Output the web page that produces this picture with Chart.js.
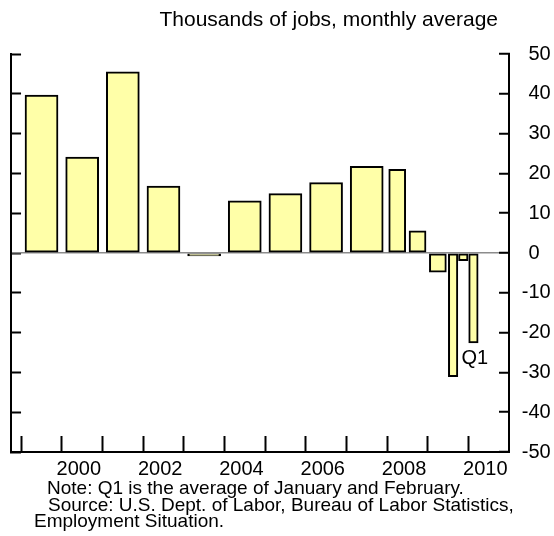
<!DOCTYPE html>
<html>
<head>
<meta charset="utf-8">
<script src="https://cdn.jsdelivr.net/npm/chart.js@4/dist/chart.umd.min.js"></script>
<style>
  html, body { margin: 0; padding: 0; background: #fff; }
  #wrap { width: 554px; height: 536px; }
</style>
</head>
<body>
<div id="wrap"><canvas id="c" width="554" height="536"></canvas></div>
<script>
// ---- data ----
const periods = ['1999','2000','2001','2002','2003','2004','2005','2006','2007',
                 '2008 H1','2008 H2','2009 H1','2009 Q3','2009 Q4','2010 Q1'];
const values  = [39.7, 24.1, 45.5, 16.8, -0.3, 13.1, 14.9, 17.7, 21.8,
                 21.0, 5.6, -4.8, -31.1, -1.9, -22.6];
const tickYears  = [1999,2000,2001,2002,2003,2004,2005,2006,2007,2008,2009,2010];
const labelYears = [2000,2002,2004,2006,2008,2010];
const yTicks = [-50,-40,-30,-20,-10,0,10,20,30,40,50];
const titleText = 'Thousands of jobs, monthly average';
const noteLines = ['Note: Q1 is the average of January and February.',
                   'Source: U.S. Dept. of Labor, Bureau of Labor Statistics,',
                   'Employment Situation.'];
const annotationText = 'Q1';

// derive the period midpoint (in years) from its label
function midpoint(p) {
  const parts = p.split(' ');
  const y = parseInt(parts[0], 10);
  if (parts.length === 1) return y + 0.5;
  const k = parts[1][0], n = parseInt(parts[1].slice(1), 10);
  if (k === 'H') return y + (n - 0.5) / 2;
  return y + (n - 0.5) / 4;
}
function kind(p) {
  const parts = p.split(' ');
  return parts.length === 1 ? 'A' : parts[1][0];
}
function pts(k) {
  const out = [];
  periods.forEach((p, i) => { if (kind(p) === k) out.push({x: midpoint(p), y: values[i]}); });
  return out;
}

const FONT = "'Liberation Sans', Arial, Helvetica, sans-serif";
Chart.defaults.font.family = FONT;
Chart.defaults.color = '#000';

const fill = '#FFFFA8';
const barBase = { backgroundColor: fill, borderColor: '#000', borderWidth: 2,
                  borderSkipped: false, grouped: false, minBarLength: 3,
                  yAxisID: 'y', xAxisID: 'x' };

const textPlugin = {
  id: 'texts',
  afterDraw(chart) {
    const ctx = chart.ctx;
    ctx.save();
    ctx.fillStyle = '#000';
    ctx.font = '21px ' + FONT;
    ctx.textAlign = 'right';
    ctx.textBaseline = 'alphabetic';
    ctx.fillText(titleText, 498, 26);
    ctx.font = '19px ' + FONT;
    ctx.textAlign = 'left';
    ctx.fillText(noteLines[0], 47, 494);
    ctx.fillText(noteLines[1], 48, 510.5);
    ctx.fillText(noteLines[2], 34, 527);
    // Q1 annotation next to the last bar
    const xs = chart.scales.x, ys = chart.scales.y;
    const lastX = midpoint(periods[periods.length - 1]);
    ctx.font = '20px ' + FONT;
    ctx.textBaseline = 'middle';
    ctx.fillText(annotationText, xs.getPixelForValue(lastX) - 12, ys.getPixelForValue(-26.6));
    ctx.restore();
  }
};

new Chart(document.getElementById('c'), {
  type: 'bar',
  data: {
    datasets: [
      Object.assign({ label: 'annual', data: pts('A'), barThickness: 33 }, barBase),
      Object.assign({ label: 'half', data: pts('H'), barThickness: 17 }, barBase),
      Object.assign({ label: 'quarter', data: pts('Q'), barThickness: 9.5 }, barBase)
    ]
  },
  options: {
    responsive: false,
    animation: false,
    layout: { padding: { top: 54, left: 0, right: 0, bottom: 0 } },
    plugins: { legend: { display: false }, tooltip: { enabled: false }, title: { display: false } },
    scales: {
      x: {
        type: 'linear', position: 'bottom', min: 1998.75, max: 2011, offset: false,
        afterBuildTicks: s => { s.ticks = tickYears.map(v => ({ value: v })); },
        afterFit: s => { s.height = 84; },
        border: { display: true, color: '#000', width: 2 },
        grid: { offset: false, drawOnChartArea: false, drawTicks: true, tickLength: -16, tickWidth: 2, tickColor: '#000' },
        ticks: {
          autoSkip: false, maxRotation: 0, padding: 21, labelOffset: 17,
          font: { size: 20 }, color: '#000',
          callback: v => labelYears.includes(v) ? String(v) : ''
        }
      },
      yL: {
        type: 'linear', position: 'left', min: -50, max: 50,
        afterBuildTicks: s => { s.ticks = yTicks.map(v => ({ value: v })); },
        afterFit: s => { s.width = 10; },
        border: { display: true, color: '#000', width: 2 },
        grid: { drawOnChartArea: false, drawTicks: true, tickLength: -10, tickWidth: 2, tickColor: '#000' },
        ticks: { display: false }
      },
      y: {
        type: 'linear', position: 'right', min: -50, max: 50,
        afterBuildTicks: s => { s.ticks = yTicks.map(v => ({ value: v })); },
        afterFit: s => { s.width = 45; },
        border: { display: true, color: '#000', width: 2 },
        grid: {
          drawOnChartArea: true, drawTicks: true, tickLength: -10, tickWidth: 2, tickColor: '#000',
          color: c => (c.tick && c.tick.value === 0) ? '#8c8c8c' : 'rgba(0,0,0,0)',
          lineWidth: 1.5
        },
        ticks: { padding: 22.8, font: { size: 20 }, color: '#000',
                 // three-per-em space keeps the digits aligned after a hanging minus sign
                 callback: v => v < 0 ? String(v) : '\u2004' + String(v) }
      }
    }
  },
  plugins: [textPlugin]
});
</script>
</body>
</html>
